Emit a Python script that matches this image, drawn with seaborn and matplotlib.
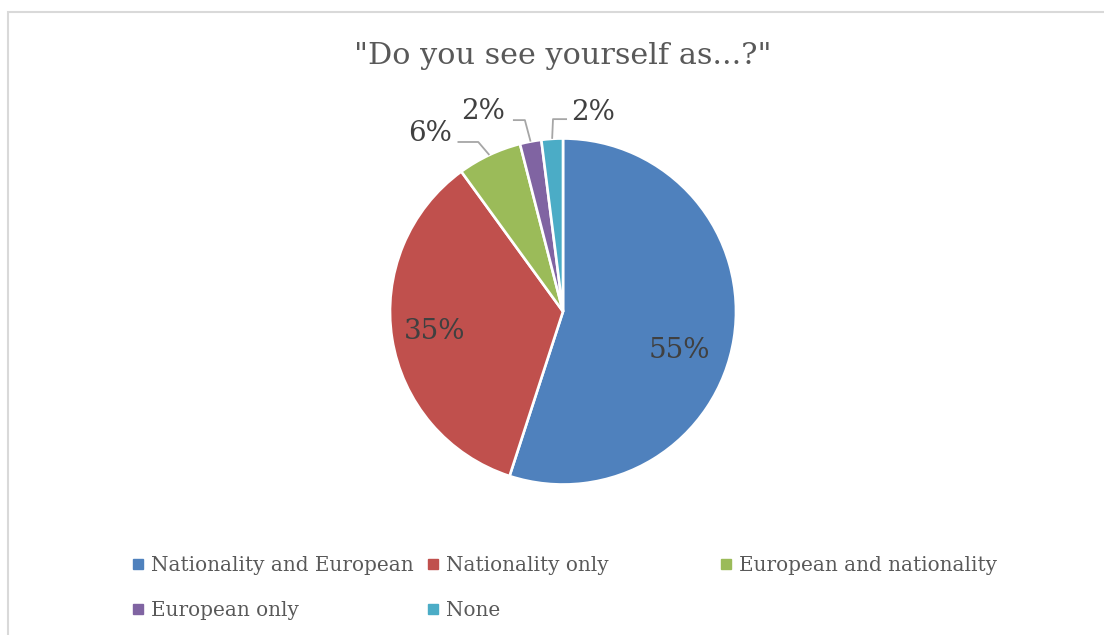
import matplotlib
matplotlib.use("Agg")
import matplotlib.pyplot as plt
import numpy as np
import seaborn as sns
from matplotlib.lines import Line2D
from matplotlib.patches import Rectangle

# ---- data ----
categories = ["Nationality and European", "Nationality only", "European and nationality",
              "European only", "None"]
values = [55, 35, 6, 2, 2]
pct_labels = ["55%", "35%", "6%", "2%", "2%"]
colors = ["#4F81BD", "#C0504D", "#9BBB59", "#8064A2", "#4BACC6"]
title = '"Do you see yourself as...?"'

sns.set_theme(style="white")
plt.rcParams["font.family"] = ["DejaVu Serif"]

W, H = 1104, 635
fig = plt.figure(figsize=(W / 100, H / 100), dpi=100)

# pie axes: centre (563, 311.5) px, radius 173 px
R = 173.0
cx, cy = 563.0, 311.5
half = 1.5 * R
ax = fig.add_axes([(cx - half) / W, (H - cy - half) / H, 2 * half / W, 2 * half / H])
palette = sns.color_palette(colors)
wedges, _ = ax.pie(values, colors=palette, startangle=90, counterclock=False, radius=1,
                   wedgeprops=dict(edgecolor="white", linewidth=1.9))
ax.set_xlim(-1.5, 1.5)
ax.set_ylim(-1.5, 1.5)
ax.set_aspect("equal")
ax.axis("off")

label_color = "#404040"
lbl_size = 20

# inside labels for the two large slices (radius, angle tweak in degrees)
inside = {0: (0.71, -9.5), 1: (0.75, 0.0)}
# outside labels: offsets (from wedge edge point) for elbow, line end, text centre
outside = {
    2: dict(elbow=(-0.064, 0.075), end=(-0.184, 0.075), text=(-0.344, 0.125)),
    3: dict(elbow=(-0.033, 0.124), end=(-0.102, 0.124), text=(-0.273, 0.171)),
    4: dict(elbow=(0.005, 0.114), end=(0.086, 0.114), text=(0.236, 0.155)),
}
for i, w in enumerate(wedges):
    mid = np.deg2rad((w.theta1 + w.theta2) / 2)
    if i in inside:
        r, dtheta = inside[i]
        a = mid + np.deg2rad(dtheta)
        ax.text(r * np.cos(a), r * np.sin(a), pct_labels[i], ha="center", va="center",
                fontsize=lbl_size, color=label_color)
    else:
        ex, ey = np.cos(mid), np.sin(mid)
        o = outside[i]
        xs = [ex, ex + o["elbow"][0], ex + o["end"][0]]
        ys = [ey, ey + o["elbow"][1], ey + o["end"][1]]
        ax.plot(xs, ys, color="#A6A6A6", linewidth=1.3, solid_capstyle="butt")
        ax.text(ex + o["text"][0], ey + o["text"][1], pct_labels[i], ha="center",
                va="center", fontsize=lbl_size, color=label_color)

fig.text(cx / W, 1 - 56 / H, title, ha="center", va="center", fontsize=21.8, color="#595959")

# legend: three columns of equal width
handles = [Line2D([], [], marker="s", linestyle="", markersize=6.5, color=c) for c in palette]
cols = [[0, 3], [1, 4], [2]]
col_x = [132, 427, 720]
for cidx, xs in zip(cols, col_x):
    leg = fig.legend([handles[k] for k in cidx], [categories[k] for k in cidx],
                     loc="upper left", bbox_to_anchor=(xs / W, 1 - 556 / H), frameon=False,
                     fontsize=14.4, handlelength=0.6, handletextpad=0.35, labelspacing=1.3,
                     borderaxespad=0, borderpad=0)
    for t in leg.get_texts():
        t.set_color("#595959")

# light grey chart frame (cut by the image at right and bottom)
fig.add_artist(Rectangle((7.5 / W, -20 / H), (W + 20) / W, (H - 11.5 + 20) / H,
                         transform=fig.transFigure, fill=False, edgecolor="#D9D9D9",
                         linewidth=1.5, clip_on=False))

fig.savefig("out.png", dpi=100)
